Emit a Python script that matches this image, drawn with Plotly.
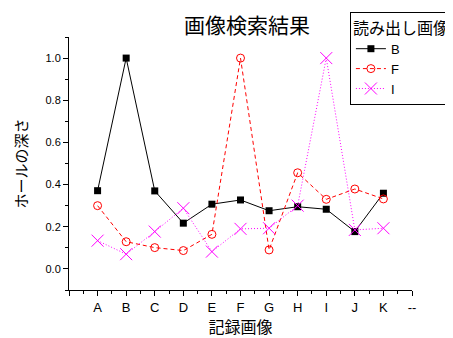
import plotly.graph_objects as go

categories = ["A", "B", "C", "D", "E", "F", "G", "H", "I", "J", "K"]
x_ticklabels = ["", "A", "B", "C", "D", "E", "F", "G", "H", "I", "J", "K", "--"]
series_B = [0.371, 1.0, 0.37, 0.217, 0.307, 0.327, 0.276, 0.295, 0.283, 0.177, 0.359]
series_F = [0.30, 0.129, 0.101, 0.087, 0.164, 1.0, 0.09, 0.456, 0.33, 0.379, 0.332]
series_I = [0.134, 0.07, 0.177, 0.288, 0.082, 0.19, 0.193, 0.30, 1.0, 0.185, 0.193]

xpos = list(range(1, len(categories) + 1))
jp = "Noto Sans CJK JP"
lat = "Liberation Sans, Arial, sans-serif"

fig = go.Figure()
fig.add_trace(go.Scatter(x=xpos, y=series_B, name="B", mode="lines+markers",
                         line=dict(color="black", width=1),
                         marker=dict(symbol="square", size=7, color="black")))
fig.add_trace(go.Scatter(x=xpos, y=series_F, name="F", mode="lines+markers",
                         line=dict(color="#ff0000", width=1, dash="4px,3px"),
                         marker=dict(symbol="circle-open", size=8, color="#ff0000", line=dict(width=1))))
fig.add_trace(go.Scatter(x=xpos, y=series_I, name="I", mode="lines+markers",
                         line=dict(color="#ff00ff", width=1, dash="1px,2px"),
                         marker=dict(symbol="x-thin-open", size=12, color="#ff00ff", line=dict(width=1, color="#ff00ff"))))

fig.update_layout(
    width=445, height=330,
    margin=dict(l=61, r=41, t=29, b=48, autoexpand=False),
    paper_bgcolor="white", plot_bgcolor="white",
    title=dict(text="画像検索結果", x=0.537, xanchor="center", y=0.947, yanchor="middle",
               font=dict(family=jp, size=21, color="black")),
    showlegend=True,
    legend=dict(x=0.819, y=1.099, xanchor="left", yanchor="top",
                bordercolor="black", borderwidth=1, bgcolor="white",
                font=dict(family=lat, size=13, color="black"),
                title=dict(text="読み出し画像", font=dict(family=jp, size=16, color="black")),
                tracegroupgap=0),
    xaxis=dict(range=[0, 12], tickmode="array", tickvals=list(range(0, 13)), ticktext=x_ticklabels,
               ticks="outside", ticklen=5, tickcolor="black", showline=True, linecolor="black",
               linewidth=1, showgrid=False, zeroline=False,
               tickfont=dict(family=lat, size=13, color="black"),
               minor=dict(tickvals=[i + 0.5 for i in range(12)], ticks="outside", ticklen=3, tickcolor="black"),
               title=dict(text="記録画像", font=dict(family=jp, size=16, color="black"), standoff=5)),
    yaxis=dict(range=[-0.1, 1.1], tickmode="linear", tick0=0, dtick=0.2, tickformat=".1f",
               ticks="outside", ticklen=5, tickcolor="black", showline=True, linecolor="black",
               linewidth=1, showgrid=False, zeroline=False,
               tickfont=dict(family=lat, size=11, color="black"),
               minor=dict(dtick=0.1, tick0=0, ticks="outside", ticklen=3, tickcolor="black"),
               title=dict(text="ホールの深さ", font=dict(family=jp, size=15, color="black"), standoff=14)),
)

fig.write_html("out.html")
